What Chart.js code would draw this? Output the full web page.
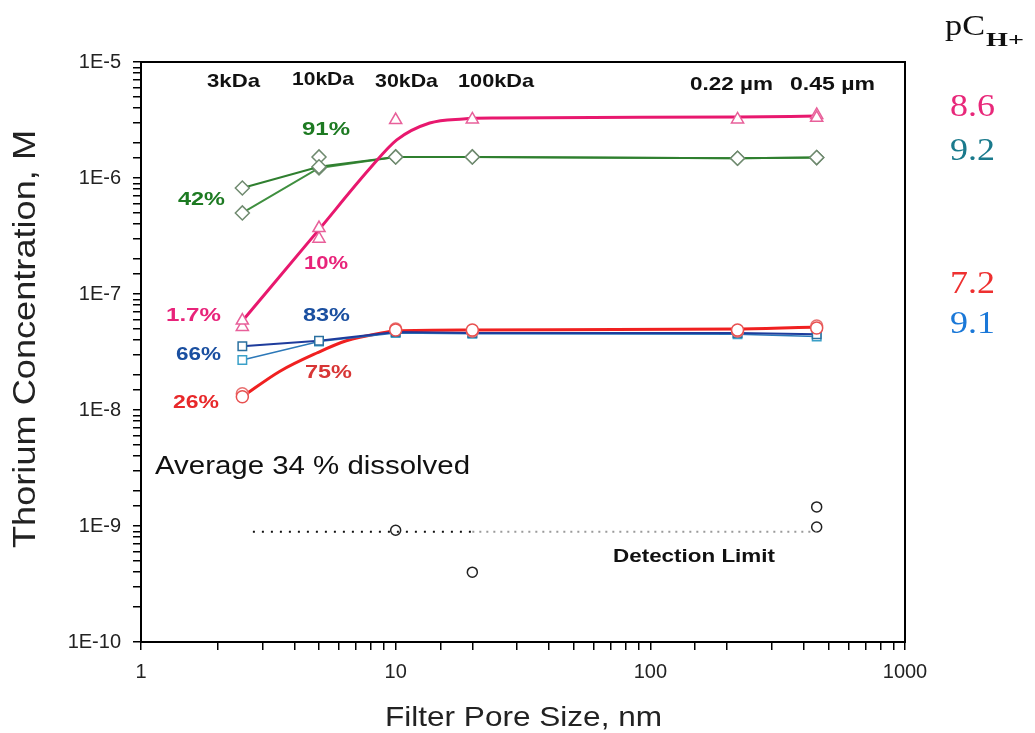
<!DOCTYPE html>
<html>
<head>
<meta charset="utf-8">
<script src="https://cdn.jsdelivr.net/npm/chart.js@4.4.1/dist/chart.umd.min.js"></script>
<style>
    html, body { margin: 0; padding: 0; background: #fff; }
    #wrap { width: 1035px; height: 733px; }
</style>
</head>
<body>
<div id="wrap"><canvas id="thoriumChart"></canvas></div>
<script>
// filter pore sizes (nm)
const poreSizes = [2.5, 5, 10, 20, 220, 450];

// measured Th concentrations (M), two runs per pCH+
const pinkA  = [5.9e-8, 3.7e-7, 3.16e-6, 3.2e-6, 3.2e-6, 3.3e-6];
const pinkB  = [5.2e-8, 3.0e-7, null, null, null, 3.5e-6];
const greenA = [8.2e-7, 1.25e-6, 1.52e-6, 1.52e-6, 1.48e-6, 1.5e-6];
const greenB = [5.0e-7, 1.22e-6, 1.52e-6, 1.52e-6, 1.48e-6, 1.5e-6];
const greenExtra = [null, 1.52e-6, null, null, null, null];
const blueA  = [3.55e-8, 3.95e-8, 4.7e-8, 4.6e-8, 4.6e-8, 4.5e-8];
const blueB  = [2.7e-8, 3.9e-8, 4.6e-8, 4.55e-8, 4.5e-8, 4.3e-8];
const redA   = [1.3e-8, null, 4.9e-8, 4.9e-8, 4.9e-8, 5.1e-8];
const redB   = [1.38e-8, null, 5.0e-8, 4.8e-8, 4.8e-8, 5.3e-8];

// fitted curves
const pinkFitX = [2.5, 4.95, 7.9, 10.1, 13.6, 18.4, 25, 220, 450];
const pinkFitY = [5.85e-8, 3.5e-7, 1.2e-6, 2.13e-6, 2.98e-6, 3.23e-6, 3.29e-6, 3.35e-6, 3.42e-6];
const redFitX = [2.5, 3.5, 4.9, 6.4, 8.7, 10, 20, 220, 450];
const redFitY = [1.3e-8, 2.15e-8, 3.1e-8, 3.95e-8, 4.6e-8, 4.8e-8, 4.9e-8, 5.0e-8, 5.2e-8];

// points near / below detection limit
const lowX = [10, 20, 450, 450];
const lowY = [9.2e-10, 4.0e-10, 1.46e-9, 9.8e-10];
const detectX = [2.75, 20, 450];
const detectLimit = 8.9e-10;

const pts = (xs, ys) => xs.map((x, i) => ({ x: x, y: ys[i] })).filter(p => p.y != null);

const TEXT = 'Liberation Sans, Arial, sans-serif';
const SERIF = 'Liberation Serif, Times New Roman, serif';

// text drawn stretched to the width seen in the figure
function fitText(ctx, txt, left, cy, w, font, color) {
    ctx.save();
    ctx.font = font;
    ctx.fillStyle = color;
    ctx.textBaseline = 'middle';
    ctx.textAlign = 'left';
    const sx = w / ctx.measureText(txt).width;
    ctx.translate(left, cy);
    ctx.scale(sx, 1);
    ctx.fillText(txt, 0, 0);
    ctx.restore();
}

const labels = [
    ['3kDa', 207, 82, 53, 'bold 19px ' + TEXT, '#111'],
    ['10kDa', 292, 80, 62, 'bold 19px ' + TEXT, '#111'],
    ['30kDa', 375, 82, 63, 'bold 19px ' + TEXT, '#111'],
    ['100kDa', 458, 82, 76, 'bold 19px ' + TEXT, '#111'],
    ['0.22 µm', 690, 85, 83, 'bold 18px ' + TEXT, '#111'],
    ['0.45 µm', 790, 85, 85, 'bold 18px ' + TEXT, '#111'],
    ['91%', 302, 130, 48, 'bold 19px ' + TEXT, '#1d7a22'],
    ['42%', 178, 200, 47, 'bold 19px ' + TEXT, '#1d7a22'],
    ['10%', 304, 264, 44, 'bold 19px ' + TEXT, '#e8237a'],
    ['1.7%', 166, 316, 55, 'bold 19px ' + TEXT, '#e8237a'],
    ['83%', 303, 316, 47, 'bold 19px ' + TEXT, '#1a4fa0'],
    ['66%', 176, 355, 45, 'bold 19px ' + TEXT, '#1a4fa0'],
    ['75%', 305, 373, 47, 'bold 19px ' + TEXT, '#d83636'],
    ['26%', 173, 403, 46, 'bold 19px ' + TEXT, '#e8282a'],
    ['Average 34 % dissolved', 155, 467, 315, '25px ' + TEXT, '#111'],
    ['Detection Limit', 613, 557, 162, 'bold 18px ' + TEXT, '#111'],
    ['Filter Pore Size, nm', 385, 718, 277, '28px ' + TEXT, '#222'],
    ['8.6', 950, 108, 45, '32px ' + SERIF, '#e8287a'],
    ['9.2', 950, 152, 45, '32px ' + SERIF, '#1a7a8c'],
    ['7.2', 950, 285, 45, '32px ' + SERIF, '#ee3030'],
    ['9.1', 950, 325, 45, '32px ' + SERIF, '#1a78d8'],
    ['pC', 945, 27, 40, '30px ' + SERIF, '#111'],
    ['H+', 986, 41, 38, 'bold 19px ' + SERIF, '#111']
];

const decorations = {
    id: 'decorations',
    afterDraw(chart) {
        const ctx = chart.ctx;
        const a = chart.chartArea;
        ctx.save();
        ctx.strokeStyle = '#000';
        ctx.lineWidth = 2;
        ctx.strokeRect(a.left, a.top, a.right - a.left, a.bottom - a.top);
        ctx.restore();

        labels.forEach(l => fitText(ctx, l[0], l[1], l[2], l[3], l[4], l[5]));

        // rotated y title
        ctx.save();
        ctx.font = '31px ' + TEXT;
        ctx.fillStyle = '#222';
        ctx.textBaseline = 'middle';
        ctx.textAlign = 'center';
        const txt = 'Thorium Concentration, M';
        const sx = 418 / ctx.measureText(txt).width;
        ctx.translate(26, 339);
        ctx.rotate(-Math.PI / 2);
        ctx.scale(sx, 1);
        ctx.fillText(txt, 0, 0);
        ctx.restore();
    }
};

const isPow10 = v => {
    const e = Math.round(Math.log10(v));
    return Math.abs(v - Math.pow(10, e)) < Math.pow(10, e) * 1e-6 ? e : null;
};

const markerSet = (data, style, color, radius, line) => ({
    data: data,
    showLine: !!line,
    borderColor: line ? line.color : color,
    borderWidth: line ? line.width : 1.5,
    pointStyle: style,
    pointRadius: radius,
    pointBorderColor: color,
    pointBackgroundColor: '#fff',
    pointBorderWidth: 1.5,
    tension: 0,
    spanGaps: true
});

const curveSet = (data, color, width) => ({
    data: data,
    showLine: true,
    borderColor: color,
    borderWidth: width,
    pointRadius: 0,
    cubicInterpolationMode: 'monotone',
    fill: false
});

new Chart(document.getElementById('thoriumChart'), {
    type: 'scatter',
    data: {
        datasets: [
            markerSet(pts(poreSizes, pinkA), 'triangle', '#e8609a', 7),
            markerSet(pts(poreSizes, pinkB), 'triangle', '#e8609a', 7),
            curveSet(pts(pinkFitX, pinkFitY), '#e8186e', 3),
            markerSet(pts(poreSizes, greenA), 'rectRot', '#6f8a6f', 7, { color: '#2f7f2f', width: 2 }),
            markerSet(pts(poreSizes, greenB), 'rectRot', '#6f8a6f', 7, { color: '#3f8f3f', width: 2 }),
            markerSet(pts(poreSizes, greenExtra), 'rectRot', '#6f8a6f', 7),
            markerSet(pts(poreSizes, redA), 'circle', '#e85050', 6),
            markerSet(pts(poreSizes, redB), 'circle', '#e87070', 6),
            markerSet(pts(poreSizes, blueA), 'rect', '#2a70a0', 6, { color: '#1e3c9c', width: 2 }),
            markerSet(pts(poreSizes, blueB), 'rect', '#3aa0c8', 6, { color: '#2c78b8', width: 1.5 }),
            curveSet(pts(redFitX, redFitY), '#f02020', 3),
            {
                data: pts(detectX.slice(0, 2), detectX.slice(0, 2).map(() => detectLimit)),
                showLine: true, borderColor: '#111', borderWidth: 2, borderDash: [2, 7], pointRadius: 0
            },
            {
                data: pts(detectX.slice(1), detectX.slice(1).map(() => detectLimit)),
                showLine: true, borderColor: '#9a9a9a', borderWidth: 2, borderDash: [2, 5], pointRadius: 0
            },
            markerSet(pts(lowX, lowY), 'circle', '#222', 5)
        ]
    },
    options: {
        responsive: true,
        maintainAspectRatio: false,
        animation: false,
        layout: { padding: { top: 62, right: 130, left: 0, bottom: 0 } },
        plugins: {
            legend: { display: false },
            tooltip: { enabled: false }
        },
        scales: {
            x: {
                type: 'logarithmic',
                min: 1,
                max: 1000,
                afterFit: s => { s.height = 91; },
                border: { color: '#000', width: 2 },
                grid: { drawOnChartArea: false, tickLength: 8, color: '#000', lineWidth: 1.5 },
                ticks: {
                    autoSkip: false,
                    maxRotation: 0,
                    padding: 10,
                    color: '#222',
                    font: { family: TEXT, size: 20 },
                    callback: v => { const e = isPow10(v); return e === null ? '' : String(Math.pow(10, e)); }
                }
            },
            y: {
                type: 'logarithmic',
                min: 1e-10,
                max: 1e-5,
                afterFit: s => { s.width = 141; },
                border: { color: '#000', width: 2 },
                grid: { drawOnChartArea: false, tickLength: 8, color: '#000', lineWidth: 1.5 },
                ticks: {
                    autoSkip: false,
                    padding: 12,
                    color: '#222',
                    font: { family: TEXT, size: 20 },
                    callback: v => { const e = isPow10(v); return e === null ? '' : '1E' + e; }
                }
            }
        }
    },
    plugins: [decorations]
});
</script>
</body>
</html>
